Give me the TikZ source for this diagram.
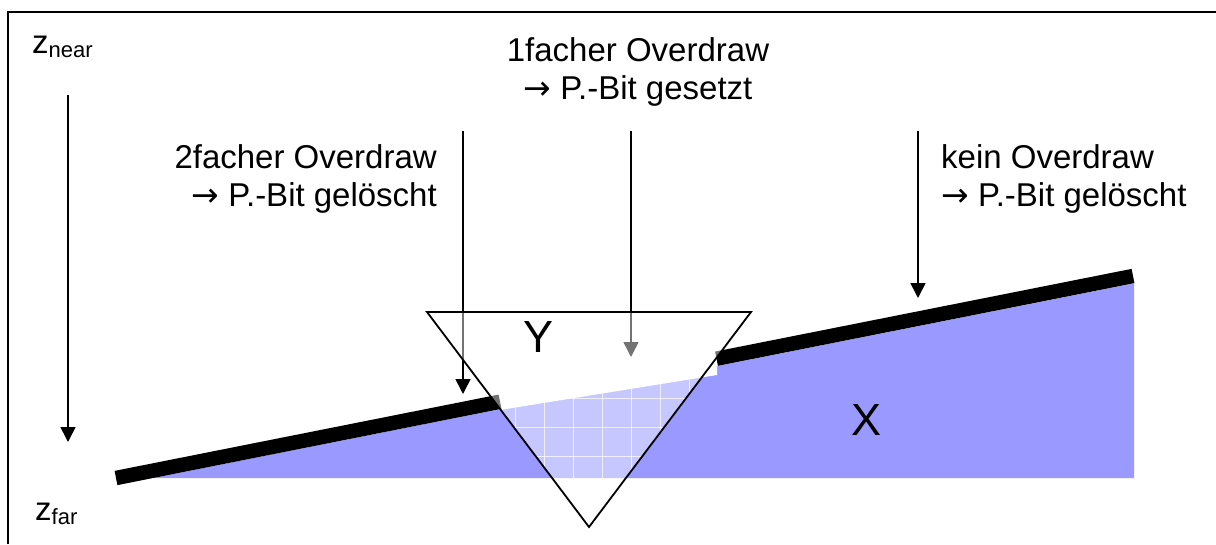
\documentclass[tikz,border=0pt]{standalone}
\usepackage{fontspec}
\setmainfont{Liberation Sans}
\newfontfamily\arrowfont{DejaVu Sans}
\usetikzlibrary{arrows.meta}
\definecolor{Xblue}{HTML}{9999FF}
\tikzset{
  depthline/.style={line width=14.5pt,draw=black},
  ray/.style={-{Triangle[length=15pt,width=15pt]},line width=1.6pt},
  labeltext/.style={inner sep=0pt,font=\fontsize{33}{38}\selectfont},
  bigletter/.style={inner sep=0pt,font=\fontsize{45}{50}\selectfont},
  gridline/.style={draw=white,line width=0.8pt,draw opacity=0.7},
}
\newcommand{\zsub}[1]{{\fontsize{22}{22}\selectfont\raisebox{-4pt}{#1}}}
\newcommand{\arr}{{\arrowfont →}}

\begin{document}
\begin{tikzpicture}[x=1pt,y=-1pt]
  \useasboundingbox (0,0) rectangle (1216,544);
  % frame (cut off right and bottom)
  \draw[line width=2pt] (8,544) -- (8,12) -- (1216,12);
  % X
  \fill[Xblue] (153.3,478) -- (1134,283.4) -- (1134,478) -- cycle;
  \fill[white] (500,380) -- (717,330) -- (717,375) -- (500,410) -- cycle;
  \coordinate (l0) at (116,478);
  \coordinate (l1) at (500,401.7);
  \coordinate (l2) at (716.5,358.7);
  \coordinate (l3) at (1133,276);
  \draw[depthline] (l0) -- (l1);
  \draw[depthline] (l2) -- (l3);
  % rays
  \coordinate (ztop) at (68,95);
  \coordinate (ztip) at (68,442);
  \coordinate (twtop) at (463,131);
  \coordinate (twtip) at (463,394);
  \coordinate (ontop) at (631,131);
  \coordinate (ontip) at (631,357);
  \coordinate (nvtop) at (918,131);
  \coordinate (nvtip) at (918,298);
  \draw[ray] (ztop) -- (ztip);
  \draw[ray] (twtop) -- (twtip);
  \draw[ray] (ontop) -- (ontip);
  \draw[ray] (nvtop) -- (nvtip);
  % Y
  \coordinate (ya) at (427,312);
  \coordinate (yb) at (751,312);
  \coordinate (yc) at (589,527);
  \fill[white,fill opacity=0.45] (ya) -- (yb) -- (yc) -- cycle;
  \begin{scope}
    \clip (ya) -- (yb) -- (yc) -- cycle;
    \clip (440,419.7) -- (760,368) -- (760,478) -- (440,478) -- cycle;
    \foreach \gx in {515,544,...,718}
      \draw[gridline] (\gx,300) -- (\gx,480);
    \foreach \gy in {398,427,456}
      \draw[gridline] (420,\gy) -- (760,\gy);
  \end{scope}
  \draw[line width=1.8pt] (ya) -- (yb) -- (yc) -- cycle;
  % labels
  \node[bigletter] (ylabel) at (539,337) {Y};
  \node[bigletter] (xlabel) at (866,420) {X};
  \node[labeltext,anchor=base west] (znear) at (32,53) {z\zsub{near}};
  \node[labeltext,anchor=base west] (zfar) at (35,520) {z\zsub{far}};
  \node[labeltext,align=center,anchor=base] (once) at (638,99) {1facher Overdraw\\\arr{} P.-Bit gesetzt};
  \node[labeltext,align=right,anchor=base east] (twice) at (437,206) {2facher Overdraw\\\arr{} P.-Bit gelöscht};
  \node[labeltext,align=left,anchor=base west] (never) at (941,206) {kein Overdraw\\\arr{} P.-Bit gelöscht};
\end{tikzpicture}
\end{document}
